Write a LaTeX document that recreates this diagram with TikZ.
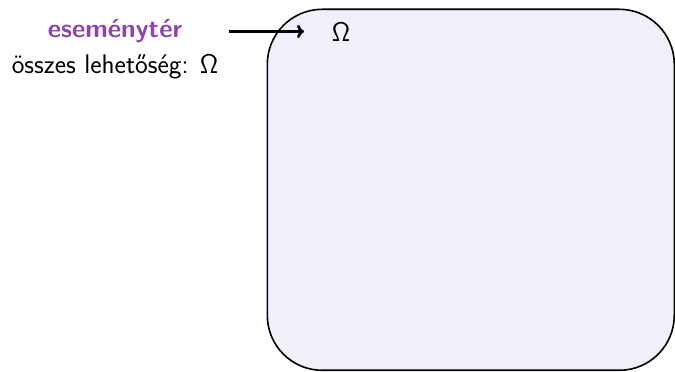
\documentclass[tikz,border=0pt]{standalone}
\usepackage{fontspec}
\usetikzlibrary{arrows.meta}
\setsansfont{Latin Modern Sans}
\definecolor{purp}{HTML}{8E44AD}
\definecolor{boxfill}{HTML}{F0F0FC}
\tikzset{lbl/.style={font=\sffamily\fontsize{27}{32}\selectfont, inner sep=0pt}}
\begin{document}
\begin{tikzpicture}[x=1pt,y=1pt]
\useasboundingbox (0,0) rectangle (675,372);
\node[draw, line width=1.6pt, fill=boxfill, rounded corners=55pt, minimum width=407pt, minimum height=361pt, anchor=north west, inner sep=0pt] (space) at (266.5,363.5) {};
\node[lbl, text=purp, font=\sffamily\bfseries\fontsize{26}{30}\selectfont] (es) at (115,341) {eseménytér};
\node[lbl] (all) at (115,305) {összes lehetőség: Ω};
\node[lbl] (om) at (341,340) {Ω};
\coordinate (a0) at (229,340.5);
\coordinate (a1) at (304,340.5);
\draw[line width=2.8pt, -{Computer Modern Rightarrow[length=7pt,width=13pt]}] (a0) -- (a1);
\end{tikzpicture}
\end{document}
